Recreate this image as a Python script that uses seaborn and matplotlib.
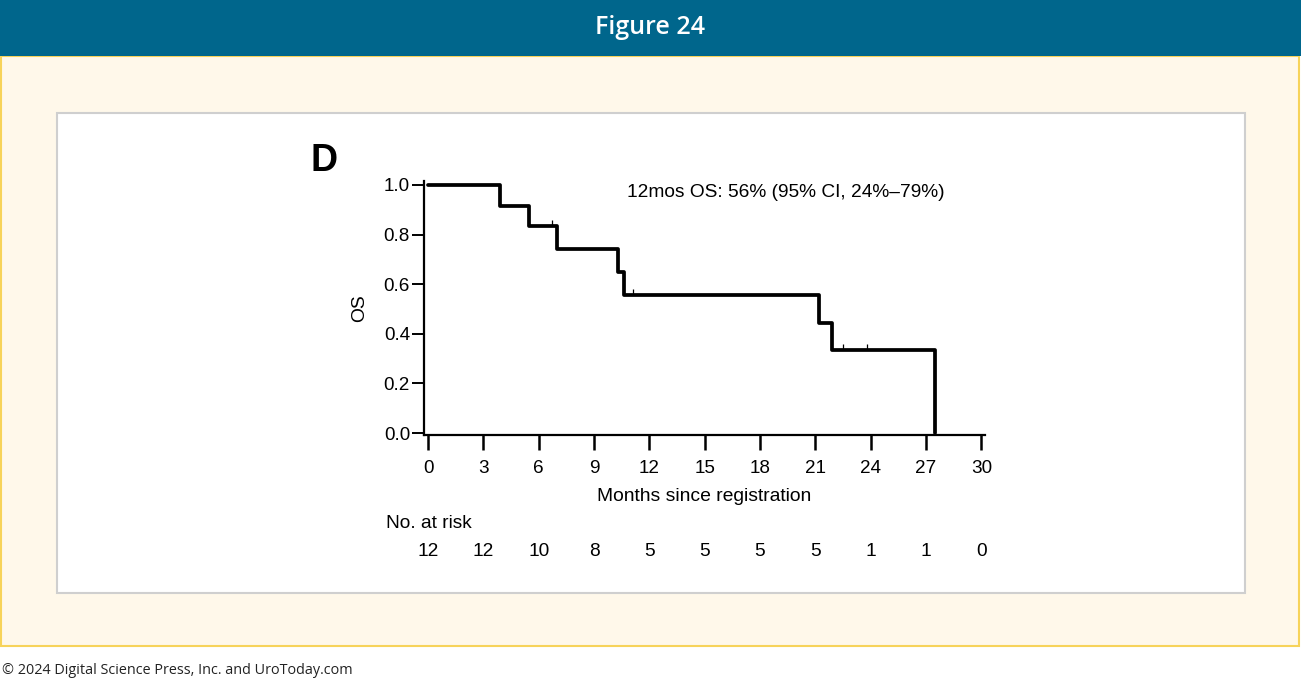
import numpy as np
import pandas as pd
import matplotlib
matplotlib.use("Agg")
import matplotlib.pyplot as plt
import matplotlib.transforms as mtransforms
from matplotlib.patches import Rectangle
from matplotlib.path import Path
import seaborn as sns

# Kaplan-Meier steps
event_months = [0, 3.9, 5.5, 7.0, 10.3, 10.6, 21.2, 21.9, 27.5]
survival = [1.0, 0.917, 0.833, 0.741, 0.648, 0.556, 0.444, 0.333, 0.0]
censor_months = [6.7, 11.1, 22.5, 23.8]
censor_surv = [0.833, 0.556, 0.333, 0.333]
x_ticks = [0, 3, 6, 9, 12, 15, 18, 21, 24, 27, 30]
y_ticks = [0.0, 0.2, 0.4, 0.6, 0.8, 1.0]
at_risk = [12, 12, 10, 8, 5, 5, 5, 5, 1, 1, 0]

sns.set_style("white")
plt.rcParams['font.family'] = ['Liberation Sans', 'DejaVu Sans']
plt.rcParams['text.color'] = 'black'
plt.rcParams['axes.labelcolor'] = 'black'

W, H = 1301, 682
fig = plt.figure(figsize=(W / 100, H / 100), dpi=100)
fig.patch.set_facecolor("white")

def px_rect(x0, y0, x1, y1, **kw):
    # rectangle given in pixel coords from top-left
    fig.patches.append(Rectangle((x0 / W, 1 - y1 / H), (x1 - x0) / W, (y1 - y0) / H,
                                 transform=fig.transFigure, **kw))

# frame: header, cream box, white panel
px_rect(1, 56, 1299, 646, facecolor="#fff8ea", edgecolor="#f7d35a", linewidth=1.5, zorder=-3)
px_rect(0, 0, 1301, 56, facecolor="#00668c", edgecolor="none", zorder=-2)
px_rect(57, 113, 1245, 593, facecolor="white", edgecolor="#cfcfcf", linewidth=1.5, zorder=-1)

fig.text(650 / W, 1 - 28 / H, "Figure 24", color="white", fontsize=18, fontweight="semibold",
         family="Open Sans", ha="center", va="center")
fig.text(2 / W, 1 - 671 / H, "\u00a9 2024 Digital Science Press, Inc. and UroToday.com",
         color="#222222", fontsize=10.4, family="Open Sans", ha="left", va="center")

# axes placement in pixels
ax_l, ax_r, ax_t, ax_b = 424, 985, 181, 435
ax = fig.add_axes([ax_l / W, 1 - ax_b / H, (ax_r - ax_l) / W, (ax_b - ax_t) / H])
ax.set_facecolor("none")

km = pd.DataFrame({"month": event_months, "os": survival})
sns.lineplot(data=km, x="month", y="os", drawstyle="steps-post", color="black",
             linewidth=2.7, ax=ax)

# censor ticks point upward only
up_tick = Path([(0, 0), (0, 1)], [Path.MOVETO, Path.LINETO])
cens = pd.DataFrame({"month": censor_months, "os": censor_surv})
sns.scatterplot(data=cens, x="month", y="os", marker=up_tick, s=80, color="black",
                edgecolor="black", linewidth=0.9, ax=ax, zorder=3)

ax.set_xlim(-0.22, 30.2)
ax.set_ylim(-0.008, 1.016)
ax.set_xticks(x_ticks)
ax.set_yticks(y_ticks)
ax.set_xticklabels([str(t) for t in x_ticks])
ax.set_yticklabels([f"{t:.1f}" for t in y_ticks])
for s in ["top", "right"]:
    ax.spines[s].set_visible(False)
for s in ["left", "bottom"]:
    ax.spines[s].set_color("black")
    ax.spines[s].set_linewidth(1.6)
ax.tick_params(axis="x", direction="out", length=10.5, width=1.8, pad=7.5, labelsize=13.6,
               colors="black", bottom=True)
ax.tick_params(axis="y", direction="out", length=8.5, width=1.4, pad=1.5, labelsize=13.6,
               colors="black", left=True)
ax.set_xlabel("Months since registration", fontsize=13.9, labelpad=8)
ax.set_ylabel("OS", fontsize=13.9, labelpad=11)

ax.text(19.4, 0.968, "12mos OS: 56% (95% CI, 24%\u201379%)", fontsize=13.8,
        ha="center", va="center")

fig.text(324 / W, 1 - 161 / H, "D", fontsize=27, fontweight="bold", ha="center", va="center")

# number at risk table
trans = mtransforms.blended_transform_factory(ax.transData, fig.transFigure)
fig.text(386 / W, 1 - 523 / H, "No. at risk", fontsize=13.8, ha="left", va="center")
for t, n in zip(x_ticks, at_risk):
    ax.text(t, 1 - 551 / H, str(n), transform=trans, fontsize=13.8, ha="center", va="center")

fig.savefig("out.png", dpi=100)
